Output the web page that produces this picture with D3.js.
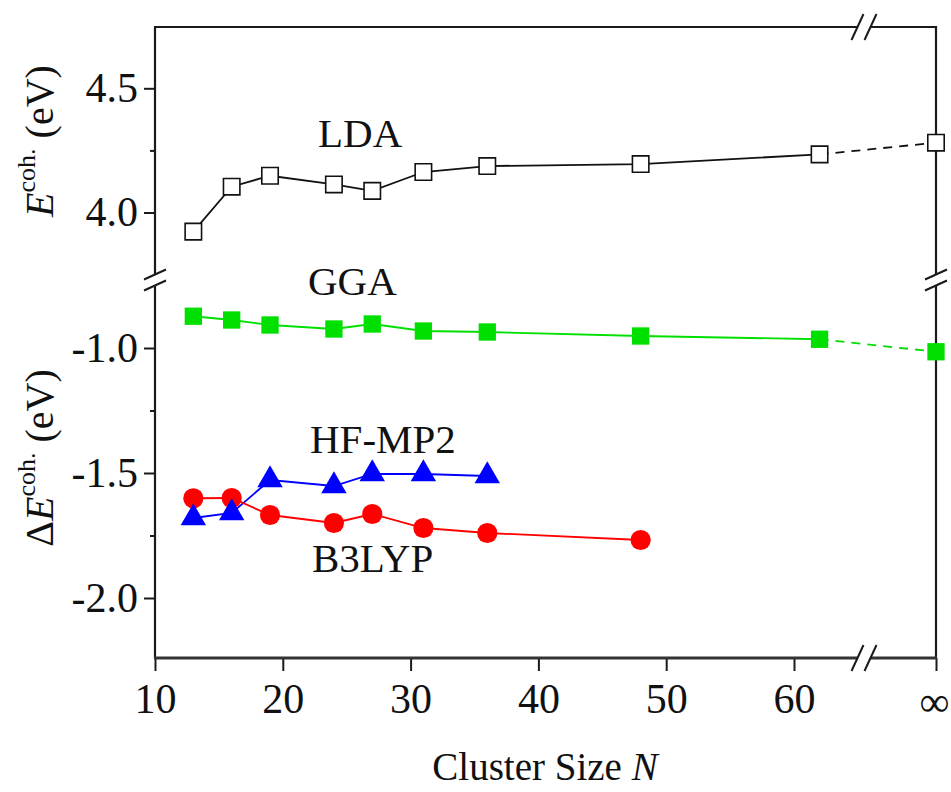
<!DOCTYPE html>
<html><head><meta charset="utf-8">
<script src="https://cdn.jsdelivr.net/npm/d3@7"></script>
<style>body{margin:0;background:#fff}svg{display:block}</style>
</head><body><svg id="c" width="951" height="792"></svg>
<script>
// ---- data ----
const sizes = [13, 16, 19, 24, 27, 31, 36, 48, 62];
const ldaValues = [3.923, 4.104, 4.148, 4.113, 4.087, 4.163, 4.187, 4.195, 4.234];
const ldaInf = 4.281;
const ggaValues = [-0.873, -0.888, -0.908, -0.924, -0.904, -0.932, -0.936, -0.952, -0.965];
const ggaInf = -1.015;
const hfSizes = [13, 16, 19, 24, 27, 31, 36];
const hfValues = [-1.68, -1.66, -1.528, -1.552, -1.504, -1.504, -1.512];
const b3Sizes = [13, 16, 19, 24, 27, 31, 36, 48];
const b3Values = [-1.601, -1.60, -1.668, -1.70, -1.664, -1.72, -1.74, -1.768];
const xTicks = [10, 20, 30, 40, 50, 60];
const infLabel = "∞";
const yTopTicks = [4.0, 4.5];
const yTopMinor = [4.25];
const yBotTicks = [-1.0, -1.5, -2.0];
const yBotMinor = [-1.25, -1.75];
const seriesNames = ["LDA", "GGA", "HF-MP2", "B3LYP"];

// ---- layout ----
const L = 155, R = 936, T = 27, B = 658;
const breakY = 280, breakX = 864;
const FONT = "'Liberation Serif','Times New Roman',serif";

const svg = d3.select("#c");
svg.append("rect").attr("width", 951).attr("height", 792).attr("fill", "#fff");

const x = d3.scaleLinear().domain([10, 60]).range([L, 794]);
const xInf = d3.scaleOrdinal().domain([infLabel]).range([R]);
const yTop = d3.scaleLinear().domain([4.0, 4.5]).range([212.5, 88.3]);
const yBot = d3.scaleLinear().domain([-1.0, -2.0]).range([348, 598]);

const fmt = d => d.toFixed(1);

// ---- axes ----
function styleAxis(g, fs) {
  g.select(".domain").remove();
  g.selectAll("line").attr("stroke", "#1a1a1a").attr("stroke-width", 2);
  g.selectAll("text").attr("font-family", FONT).attr("font-size", fs).attr("fill", "#111");
}
const gyt = svg.append("g").attr("transform", `translate(${L},0)`)
  .call(d3.axisLeft(yTop).tickValues(yTopTicks).tickSize(11).tickPadding(6).tickFormat(fmt));
styleAxis(gyt, 42);
const gytm = svg.append("g").attr("transform", `translate(${L},0)`)
  .call(d3.axisLeft(yTop).tickValues(yTopMinor).tickSize(5).tickFormat(""));
styleAxis(gytm, 42);
const gyb = svg.append("g").attr("transform", `translate(${L},0)`)
  .call(d3.axisLeft(yBot).tickValues(yBotTicks).tickSize(11).tickPadding(6).tickFormat(fmt));
styleAxis(gyb, 42);
const gybm = svg.append("g").attr("transform", `translate(${L},0)`)
  .call(d3.axisLeft(yBot).tickValues(yBotMinor).tickSize(5).tickFormat(""));
styleAxis(gybm, 42);
const gx = svg.append("g").attr("transform", `translate(0,${B})`)
  .call(d3.axisBottom(x).tickValues(xTicks).tickSize(13).tickPadding(12).tickFormat(d3.format("d")));
styleAxis(gx, 42);
const gxi = svg.append("g").attr("transform", `translate(0,${B})`)
  .call(d3.axisBottom(xInf).tickSize(13).tickPadding(12));
styleAxis(gxi, 42);
gxi.selectAll("text").attr("dy", "0.78em").attr("x", -2);

// frame
const frame = svg.append("g").attr("stroke", "#1a1a1a").attr("stroke-width", 2.2).attr("fill", "none");
frame.append("line").attr("x1", L).attr("x2", L).attr("y1", T).attr("y2", B + 1);
frame.append("line").attr("x1", R).attr("x2", R).attr("y1", T - 1).attr("y2", B + 1);
frame.append("line").attr("x1", L - 1).attr("x2", R + 1).attr("y1", T).attr("y2", T);
frame.append("line").attr("x1", L - 1).attr("x2", R + 1).attr("y1", B).attr("y2", B).attr("stroke-width", 2.8).attr("stroke", "#333");

// ---- series ----
const ldaPts = sizes.map((n, i) => [x(n), yTop(ldaValues[i])]);
const ldaInfPt = [xInf(infLabel), yTop(ldaInf)];
const ggaPts = sizes.map((n, i) => [x(n), yBot(ggaValues[i])]);
const ggaInfPt = [xInf(infLabel), yBot(ggaInf)];
const hfPts = hfSizes.map((n, i) => [x(n), yBot(hfValues[i])]);
const b3Pts = b3Sizes.map((n, i) => [x(n), yBot(b3Values[i])]);

const line = d3.line();
function drawLine(pts, color, dash) {
  svg.append("path").attr("d", line(pts)).attr("fill", "none")
    .attr("stroke", color).attr("stroke-width", 1.8)
    .attr("stroke-dasharray", dash || null);
}
drawLine(ldaPts, "#111");
drawLine([ldaPts[ldaPts.length - 1], ldaInfPt], "#111", "9,7");
drawLine(ggaPts, "#00e000");
drawLine([ggaPts[ggaPts.length - 1], ggaInfPt], "#00e000", "9,7");
drawLine(hfPts, "#0000ff");
drawLine(b3Pts, "#ff0000");

function drawSym(pts, type, size, fill, stroke, sw) {
  svg.append("g").selectAll("path").data(pts).join("path")
    .attr("transform", d => `translate(${d[0]},${d[1]})`)
    .attr("d", d3.symbol().type(type).size(size))
    .attr("fill", fill).attr("stroke", stroke).attr("stroke-width", sw);
}
drawSym(ldaPts.concat([ldaInfPt]), d3.symbolSquare, 270, "#fff", "#111", 1.6);
drawSym(ggaPts.concat([ggaInfPt]), d3.symbolSquare, 300, "#00e000", "none", 0);
drawSym(b3Pts, d3.symbolCircle, 320, "#ff0000", "none", 0);
drawSym(hfPts, d3.symbolTriangle, 280, "#0000ff", "none", 0);

// ---- axis breaks ----
const brk = svg.append("g");
function vBreak(cx) {
  brk.append("rect").attr("x", cx - 4).attr("y", breakY - 5).attr("width", 8).attr("height", 10).attr("fill", "#fff");
  [-5.5, 5.5].forEach(o => brk.append("line")
    .attr("x1", cx - 11).attr("y1", breakY + o + 5).attr("x2", cx + 11).attr("y2", breakY + o - 5)
    .attr("stroke", "#1a1a1a").attr("stroke-width", 2));
}
function hBreak(cy) {
  brk.append("rect").attr("x", breakX - 6).attr("y", cy - 4).attr("width", 12).attr("height", 8).attr("fill", "#fff");
  [-6.5, 6.5].forEach(o => brk.append("line")
    .attr("x1", breakX + o - 6).attr("y1", cy + 13).attr("x2", breakX + o + 6).attr("y2", cy - 13)
    .attr("stroke", "#1a1a1a").attr("stroke-width", 2));
}
vBreak(L); vBreak(R); hBreak(T); hBreak(B);

// ---- labels ----
const lab = svg.append("g").attr("font-family", FONT).attr("fill", "#111");
const labelPos = [[318, 147], [308, 295], [310, 453], [312, 572]];
seriesNames.forEach((s, i) => lab.append("text").attr("x", labelPos[i][0]).attr("y", labelPos[i][1])
  .attr("font-size", 41).text(s));

const xt = lab.append("text").attr("x", 545).attr("y", 780).attr("text-anchor", "middle").attr("font-size", 39);
xt.append("tspan").text("Cluster Size ");
xt.append("tspan").attr("font-style", "italic").text("N");

function yTitle(cy, prefix) {
  const t = lab.append("text").attr("transform", `translate(53,${cy}) rotate(-90)`)
    .attr("text-anchor", "middle").attr("font-size", 40);
  if (prefix) t.append("tspan").text(prefix);
  t.append("tspan").attr("font-style", "italic").text("E");
  t.append("tspan").attr("font-size", 26).attr("dy", -18).text("coh.");
  t.append("tspan").attr("dy", 18).text(" (eV)");
}
yTitle(141, null);
yTitle(458, "Δ");
</script></body></html>
